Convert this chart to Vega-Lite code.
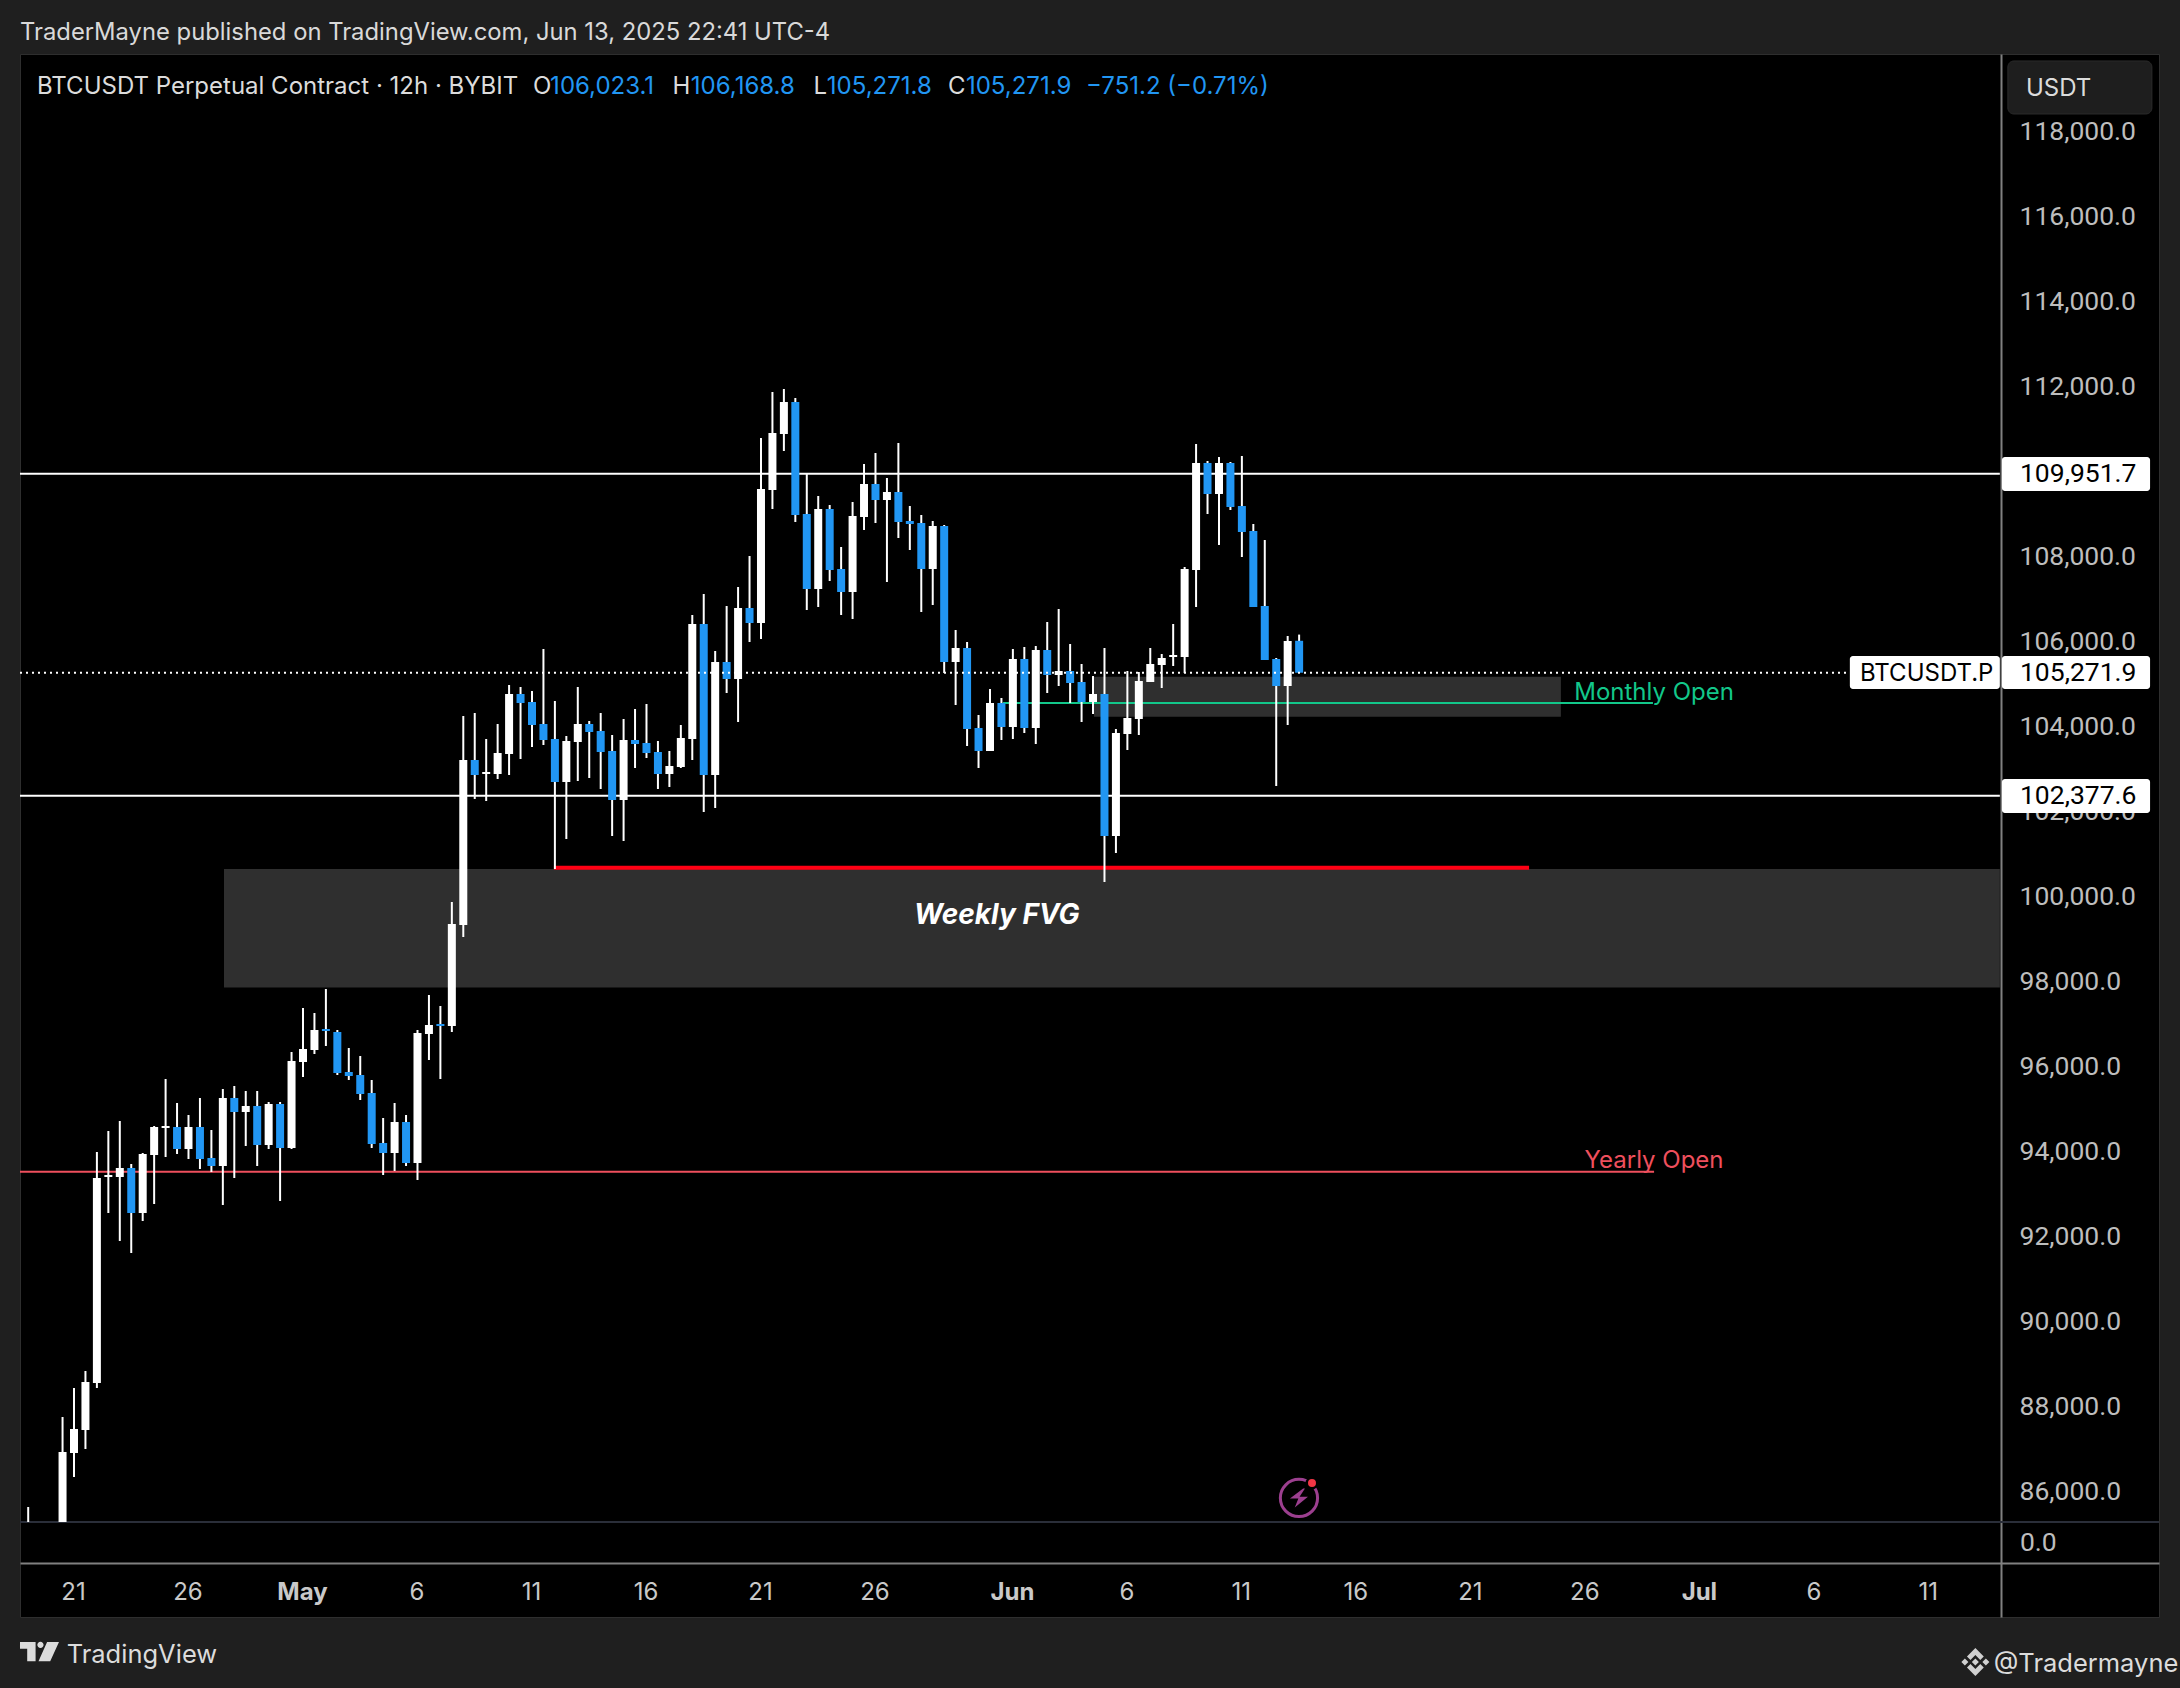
{
  "$schema": "https://vega.github.io/schema/vega-lite/v6.json",
  "width": 2139,
  "height": 1563,
  "autosize": {"type": "none"},
  "padding": {"left": 20, "top": 54, "right": 21, "bottom": 71},
  "background": "#1f1f1f",
  "title": {
    "text": "TraderMayne published on TradingView.com, Jun 13, 2025 22:41 UTC-4",
    "anchor": "start",
    "frame": "group",
    "offset": 9,
    "font": "Inter",
    "fontSize": 23.8,
    "fontWeight": 400,
    "color": "#d9d9d9"
  },
  "datasets": {
    "candles": [
      {"date":"2025-04-19T00:00:00Z","open":85289,"high":85642,"low":85289,"close":85289},
      {"date":"2025-04-20T12:00:00Z","open":85289,"high":87759,"low":85289,"close":86936},
      {"date":"2025-04-21T00:00:00Z","open":86912,"high":88442,"low":86348,"close":87477},
      {"date":"2025-04-21T12:00:00Z","open":87454,"high":88842,"low":87006,"close":88583},
      {"date":"2025-04-22T00:00:00Z","open":88559,"high":93995,"low":88442,"close":93383},
      {"date":"2025-04-22T12:00:00Z","open":93406,"high":94489,"low":92559,"close":93453},
      {"date":"2025-04-23T00:00:00Z","open":93406,"high":94724,"low":91901,"close":93618},
      {"date":"2025-04-23T12:00:00Z","open":93618,"high":93712,"low":91618,"close":92559},
      {"date":"2025-04-24T00:00:00Z","open":92559,"high":93971,"low":92371,"close":93948},
      {"date":"2025-04-24T12:00:00Z","open":93924,"high":94606,"low":92771,"close":94583},
      {"date":"2025-04-25T00:00:00Z","open":94559,"high":95712,"low":93877,"close":94606},
      {"date":"2025-04-25T12:00:00Z","open":94583,"high":95148,"low":93948,"close":94065},
      {"date":"2025-04-26T00:00:00Z","open":94065,"high":94865,"low":93830,"close":94583},
      {"date":"2025-04-26T12:00:00Z","open":94583,"high":95265,"low":93595,"close":93830},
      {"date":"2025-04-27T00:00:00Z","open":93853,"high":94512,"low":93524,"close":93665},
      {"date":"2025-04-27T12:00:00Z","open":93665,"high":95477,"low":92748,"close":95265},
      {"date":"2025-04-28T00:00:00Z","open":95265,"high":95548,"low":93383,"close":94936},
      {"date":"2025-04-28T12:00:00Z","open":94936,"high":95430,"low":94136,"close":95077},
      {"date":"2025-04-29T00:00:00Z","open":95077,"high":95430,"low":93665,"close":94159},
      {"date":"2025-04-29T12:00:00Z","open":94159,"high":95171,"low":94065,"close":95124},
      {"date":"2025-04-30T00:00:00Z","open":95124,"high":95171,"low":92842,"close":94089},
      {"date":"2025-04-30T12:00:00Z","open":94089,"high":96347,"low":94065,"close":96136},
      {"date":"2025-05-01T00:00:00Z","open":96112,"high":97383,"low":95759,"close":96418},
      {"date":"2025-05-01T12:00:00Z","open":96395,"high":97265,"low":96300,"close":96865},
      {"date":"2025-05-02T00:00:00Z","open":96889,"high":97830,"low":96489,"close":96842},
      {"date":"2025-05-02T12:00:00Z","open":96818,"high":96865,"low":95806,"close":95853},
      {"date":"2025-05-03T00:00:00Z","open":95877,"high":96442,"low":95689,"close":95783},
      {"date":"2025-05-03T12:00:00Z","open":95806,"high":96253,"low":95218,"close":95359},
      {"date":"2025-05-04T00:00:00Z","open":95383,"high":95689,"low":94089,"close":94183},
      {"date":"2025-05-04T12:00:00Z","open":94206,"high":94795,"low":93453,"close":93971},
      {"date":"2025-05-05T00:00:00Z","open":93971,"high":95148,"low":93548,"close":94700},
      {"date":"2025-05-05T12:00:00Z","open":94700,"high":94865,"low":93665,"close":93736},
      {"date":"2025-05-06T00:00:00Z","open":93736,"high":96865,"low":93336,"close":96795},
      {"date":"2025-05-06T12:00:00Z","open":96771,"high":97689,"low":96159,"close":96983},
      {"date":"2025-05-07T00:00:00Z","open":97006,"high":97430,"low":95712,"close":96959},
      {"date":"2025-05-07T12:00:00Z","open":96959,"high":99877,"low":96818,"close":99359},
      {"date":"2025-05-08T00:00:00Z","open":99336,"high":104253,"low":99053,"close":103218},
      {"date":"2025-05-08T12:00:00Z","open":103218,"high":104324,"low":102300,"close":102865},
      {"date":"2025-05-09T00:00:00Z","open":102889,"high":103712,"low":102253,"close":102936},
      {"date":"2025-05-09T12:00:00Z","open":102889,"high":104065,"low":102771,"close":103383},
      {"date":"2025-05-10T00:00:00Z","open":103359,"high":104983,"low":102865,"close":104771},
      {"date":"2025-05-10T12:00:00Z","open":104771,"high":104936,"low":103242,"close":104559},
      {"date":"2025-05-11T00:00:00Z","open":104583,"high":104841,"low":103524,"close":104041},
      {"date":"2025-05-11T12:00:00Z","open":104065,"high":105830,"low":103571,"close":103689},
      {"date":"2025-05-12T00:00:00Z","open":103712,"high":104606,"low":100653,"close":102700},
      {"date":"2025-05-12T12:00:00Z","open":102700,"high":103783,"low":101359,"close":103665},
      {"date":"2025-05-13T00:00:00Z","open":103641,"high":104936,"low":102724,"close":104065},
      {"date":"2025-05-13T12:00:00Z","open":104065,"high":104136,"low":102794,"close":103877},
      {"date":"2025-05-14T00:00:00Z","open":103900,"high":104324,"low":102536,"close":103406},
      {"date":"2025-05-14T12:00:00Z","open":103430,"high":103806,"low":101430,"close":102277},
      {"date":"2025-05-15T00:00:00Z","open":102277,"high":104183,"low":101312,"close":103689},
      {"date":"2025-05-15T12:00:00Z","open":103689,"high":104418,"low":103030,"close":103594},
      {"date":"2025-05-16T00:00:00Z","open":103618,"high":104536,"low":103265,"close":103383},
      {"date":"2025-05-16T12:00:00Z","open":103406,"high":103665,"low":102536,"close":102889},
      {"date":"2025-05-17T00:00:00Z","open":102889,"high":103430,"low":102583,"close":103077},
      {"date":"2025-05-17T12:00:00Z","open":103053,"high":104041,"low":103030,"close":103736},
      {"date":"2025-05-18T00:00:00Z","open":103712,"high":106630,"low":103218,"close":106418},
      {"date":"2025-05-18T12:00:00Z","open":106418,"high":107124,"low":101994,"close":102865},
      {"date":"2025-05-19T00:00:00Z","open":102865,"high":105783,"low":102089,"close":105524},
      {"date":"2025-05-19T12:00:00Z","open":105524,"high":106841,"low":104794,"close":105124},
      {"date":"2025-05-20T00:00:00Z","open":105124,"high":107288,"low":104112,"close":106794},
      {"date":"2025-05-20T12:00:00Z","open":106794,"high":108018,"low":105994,"close":106441},
      {"date":"2025-05-21T00:00:00Z","open":106441,"high":110794,"low":106065,"close":109594},
      {"date":"2025-05-21T12:00:00Z","open":109571,"high":111877,"low":109124,"close":110912},
      {"date":"2025-05-22T00:00:00Z","open":110888,"high":111947,"low":110488,"close":111641},
      {"date":"2025-05-22T12:00:00Z","open":111641,"high":111735,"low":108818,"close":108983},
      {"date":"2025-05-23T00:00:00Z","open":109006,"high":109947,"low":106747,"close":107241},
      {"date":"2025-05-23T12:00:00Z","open":107241,"high":109430,"low":106818,"close":109124},
      {"date":"2025-05-24T00:00:00Z","open":109124,"high":109218,"low":107430,"close":107688},
      {"date":"2025-05-24T12:00:00Z","open":107712,"high":108230,"low":106630,"close":107171},
      {"date":"2025-05-25T00:00:00Z","open":107171,"high":109288,"low":106536,"close":108959},
      {"date":"2025-05-25T12:00:00Z","open":108936,"high":110183,"low":108630,"close":109712},
      {"date":"2025-05-26T00:00:00Z","open":109712,"high":110441,"low":108794,"close":109335},
      {"date":"2025-05-26T12:00:00Z","open":109335,"high":109853,"low":107406,"close":109524},
      {"date":"2025-05-27T00:00:00Z","open":109524,"high":110677,"low":108441,"close":108818},
      {"date":"2025-05-27T12:00:00Z","open":108841,"high":109194,"low":108159,"close":108771},
      {"date":"2025-05-28T00:00:00Z","open":108794,"high":108983,"low":106700,"close":107712},
      {"date":"2025-05-28T12:00:00Z","open":107712,"high":108841,"low":106865,"close":108724},
      {"date":"2025-05-29T00:00:00Z","open":108724,"high":108747,"low":105265,"close":105524},
      {"date":"2025-05-29T12:00:00Z","open":105524,"high":106277,"low":104512,"close":105853},
      {"date":"2025-05-30T00:00:00Z","open":105853,"high":105994,"low":103547,"close":103947},
      {"date":"2025-05-30T12:00:00Z","open":103971,"high":104277,"low":103030,"close":103430},
      {"date":"2025-05-31T00:00:00Z","open":103430,"high":104889,"low":103430,"close":104559},
      {"date":"2025-05-31T12:00:00Z","open":104559,"high":104677,"low":103689,"close":103994},
      {"date":"2025-06-01T00:00:00Z","open":103994,"high":105830,"low":103712,"close":105594},
      {"date":"2025-06-01T12:00:00Z","open":105594,"high":105877,"low":103853,"close":103971},
      {"date":"2025-06-02T00:00:00Z","open":103971,"high":105900,"low":103594,"close":105806},
      {"date":"2025-06-02T12:00:00Z","open":105806,"high":106465,"low":104794,"close":105218},
      {"date":"2025-06-03T00:00:00Z","open":105218,"high":106771,"low":104959,"close":105312},
      {"date":"2025-06-03T12:00:00Z","open":105312,"high":105947,"low":104559,"close":105030},
      {"date":"2025-06-04T00:00:00Z","open":105053,"high":105477,"low":104112,"close":104583},
      {"date":"2025-06-04T12:00:00Z","open":104583,"high":105194,"low":104300,"close":104771},
      {"date":"2025-06-05T00:00:00Z","open":104771,"high":105853,"low":100347,"close":101430},
      {"date":"2025-06-05T12:00:00Z","open":101430,"high":103947,"low":101030,"close":103853},
      {"date":"2025-06-06T00:00:00Z","open":103830,"high":105312,"low":103453,"close":104206},
      {"date":"2025-06-06T12:00:00Z","open":104183,"high":105288,"low":103806,"close":105077},
      {"date":"2025-06-07T00:00:00Z","open":105053,"high":105853,"low":105053,"close":105477},
      {"date":"2025-06-07T12:00:00Z","open":105453,"high":105712,"low":104912,"close":105618},
      {"date":"2025-06-08T00:00:00Z","open":105641,"high":106418,"low":105430,"close":105688},
      {"date":"2025-06-08T12:00:00Z","open":105641,"high":107759,"low":105265,"close":107712},
      {"date":"2025-06-09T00:00:00Z","open":107688,"high":110653,"low":106818,"close":110206},
      {"date":"2025-06-09T12:00:00Z","open":110206,"high":110253,"low":109006,"close":109477},
      {"date":"2025-06-10T00:00:00Z","open":109477,"high":110347,"low":108277,"close":110206},
      {"date":"2025-06-10T12:00:00Z","open":110206,"high":110230,"low":109100,"close":109171},
      {"date":"2025-06-11T00:00:00Z","open":109194,"high":110371,"low":107994,"close":108583},
      {"date":"2025-06-11T12:00:00Z","open":108606,"high":108771,"low":106818,"close":106818},
      {"date":"2025-06-12T00:00:00Z","open":106841,"high":108394,"low":105571,"close":105571},
      {"date":"2025-06-12T12:00:00Z","open":105594,"high":105618,"low":102606,"close":104959},
      {"date":"2025-06-13T00:00:00Z","open":104959,"high":106136,"low":104041,"close":106018},
      {"date":"2025-06-13T12:00:00Z","open":106023.1,"high":106168.8,"low":105271.8,"close":105271.9}
    ],
    "levels": [
      {"level":"resistance","from":"2025-04-18T15:24:00Z","to":"2025-07-14T02:24:00Z","price":109951.7},
      {"level":"support","from":"2025-04-18T15:24:00Z","to":"2025-07-14T02:24:00Z","price":102377.6},
      {"level":"yearly","from":"2025-04-18T15:24:00Z","to":"2025-06-29T00:00:00Z","price":93528},
      {"level":"monthly","from":"2025-05-31T13:40:00Z","to":"2025-06-28T22:50:00Z","price":104559},
      {"level":"pane","from":"2025-04-18T15:24:00Z","to":"2025-07-21T01:12:00Z","price":85289}
    ],
    "zones": [
      {"from":"2025-04-27T13:12:00Z","to":"2025-07-14T02:24:00Z","top":100653,"bottom":97865},
      {"from":"2025-06-04T13:00:00Z","to":"2025-06-24T22:20:00Z","top":105178,"bottom":104237}
    ],
    "tags": [
      {"from":"2025-07-14T04:34:00Z","to":"2025-07-20T15:50:00Z","top":110347,"bottom":109547},
      {"from":"2025-07-14T04:34:00Z","to":"2025-07-20T15:50:00Z","top":105665,"bottom":104889},
      {"from":"2025-07-14T04:34:00Z","to":"2025-07-20T15:50:00Z","top":102771,"bottom":101971},
      {"from":"2025-07-07T13:12:00Z","to":"2025-07-14T02:24:00Z","top":105665,"bottom":104889}
    ],
    "notes": [
      {"text":"BTCUSDT Perpetual Contract · 12h · BYBIT","tone":"plain","date":"2025-04-19T09:13:00Z","price":119050},
      {"text":"O","tone":"plain","date":"2025-05-11T01:00:00Z","price":119050},
      {"text":"106,023.1","tone":"quote","date":"2025-05-11T19:00:00Z","price":119050},
      {"text":"H","tone":"plain","date":"2025-05-17T03:20:00Z","price":119050},
      {"text":"106,168.8","tone":"quote","date":"2025-05-17T22:30:00Z","price":119050},
      {"text":"L","tone":"plain","date":"2025-05-23T07:10:00Z","price":119050},
      {"text":"105,271.8","tone":"quote","date":"2025-05-23T21:00:00Z","price":119050},
      {"text":"C","tone":"plain","date":"2025-05-29T04:00:00Z","price":119050},
      {"text":"105,271.9","tone":"quote","date":"2025-05-29T22:50:00Z","price":119050},
      {"text":"−751.2 (−0.71%)","tone":"quote","date":"2025-06-04T04:36:00Z","price":119050},
      {"text":"USDT","tone":"plain","date":"2025-07-15T05:45:00Z","price":119000},
      {"text":"BTCUSDT.P","tone":"tag","date":"2025-07-07T23:50:00Z","price":105250},
      {"text":"Monthly Open","tone":"monthly","date":"2025-06-29T00:00:00Z","price":104800,"centred":true},
      {"text":"Yearly Open","tone":"yearly","date":"2025-06-29T00:00:00Z","price":93790,"centred":true}
    ],
    "priceNotes": [
      {"text":"109,951.7","tone":"tag","date":"2025-07-14T23:30:00Z","price":109951.7},
      {"text":"105,271.9","tone":"tag","date":"2025-07-14T23:30:00Z","price":105271.9},
      {"text":"102,377.6","tone":"tag","date":"2025-07-14T23:30:00Z","price":102377.6},
      {"text":"0.0","tone":"axis","date":"2025-07-14T23:30:00Z","price":84802}
    ],
    "footer": [
      {"text":"TradingView","date":"2025-04-20T16:20:00Z","price":82170},
      {"text":"@Tradermayne","date":"2025-07-13T20:00:00Z","price":81950}
    ]
  },
  "data": {"name": "candles"},
  "layer": [
    {
      "data": {"name": "zones"},
      "mark": {"type": "rect", "color": "#2f2f2f"},
      "encoding": {
        "x": {
          "field": "from",
          "type": "temporal",
          "title": null,
          "scale": {"type": "utc", "domain": [1744989868800, 1753060320000], "nice": false, "padding": 0},
          "axis": {
            "orient": "bottom",
            "offset": -54,
            "values": [1745193600000, 1745625600000, 1746057600000, 1746489600000, 1746921600000, 1747353600000, 1747785600000, 1748217600000, 1748736000000, 1749168000000, 1749600000000, 1750032000000, 1750464000000, 1750896000000, 1751328000000, 1751760000000, 1752192000000],
            "labelExpr": "utcdate(datum.value) == 1 ? utcFormat(datum.value, '%b') : utcFormat(datum.value, '%-d')",
            "labelFontWeight": {"condition": {"test": "utcdate(datum.value) == 1", "value": 700}, "value": 400},
            "labelFont": "Inter",
            "labelFontSize": 24,
            "labelColor": "#c9c9c9",
            "labelPadding": 17,
            "labelOffset": -1,
            "labelOverlap": false,
            "labelFlush": false,
            "ticks": false,
            "grid": false,
            "domainColor": "#808080",
            "domainWidth": 2
          }
        },
        "x2": {"field": "to"},
        "y": {
          "field": "top",
          "type": "quantitative",
          "title": null,
          "scale": {"domain": [83053.6, 119829.4], "nice": false, "zero": false},
          "axis": {
            "orient": "right",
            "offset": -158,
            "values": [86000, 88000, 90000, 92000, 94000, 96000, 98000, 100000, 102000, 104000, 106000, 108000, 110000, 112000, 114000, 116000, 118000],
            "format": ",.1f",
            "labelFont": "Roboto",
            "labelFontSize": 26.5,
            "labelColor": "#bdbdbd",
            "labelAlign": "left",
            "labelPadding": 18,
            "labelOverlap": false,
            "labelFlush": false,
            "ticks": false,
            "grid": false,
            "domainColor": "#808080",
            "domainWidth": 2
          }
        },
        "y2": {"field": "bottom"}
      }
    },
    {
      "data": {"name": "levels"},
      "mark": {"type": "rule", "strokeWidth": 2},
      "encoding": {
        "x": {"field": "from", "type": "temporal", "title": null},
        "x2": {"field": "to"},
        "y": {"field": "price", "type": "quantitative", "title": null},
        "color": {
          "field": "level",
          "type": "nominal",
          "legend": null,
          "scale": {
            "domain": ["resistance", "support", "yearly", "monthly", "pane", "plain", "quote", "tag", "axis"],
            "range": ["#ffffff", "#ffffff", "#ef4f5d", "#12c78a", "#2a2e39", "#dcdcdc", "#2196f3", "#000000", "#bdbdbd"]
          }
        }
      }
    },
    {
      "data": {"values": [{"from": "2025-05-11T23:00:00Z", "to": "2025-06-23T13:00:00Z", "price": 100684}]},
      "mark": {"type": "rule", "color": "#ff0014", "strokeWidth": 4},
      "encoding": {
        "x": {"field": "from", "type": "temporal", "title": null},
        "x2": {"field": "to"},
        "y": {"field": "price", "type": "quantitative", "title": null}
      }
    },
    {
      "mark": {"type": "rule", "color": "#ffffff", "strokeWidth": 2},
      "encoding": {
        "x": {"field": "date", "type": "temporal", "title": null},
        "y": {"field": "low", "type": "quantitative", "title": null},
        "y2": {"field": "high"}
      }
    },
    {
      "mark": {"type": "bar", "size": 8},
      "encoding": {
        "x": {"field": "date", "type": "temporal", "title": null},
        "y": {"field": "open", "type": "quantitative", "title": null},
        "y2": {"field": "close"},
        "color": {"condition": {"test": "datum.close < datum.open", "value": "#2196f3"}, "value": "#ffffff"}
      }
    },
    {
      "data": {"values": [{"from": "2025-04-18T15:24:00Z", "to": "2025-07-07T13:12:00Z", "price": 105271.9}]},
      "mark": {"type": "rule", "color": "#ffffff", "strokeWidth": 2, "strokeDash": [2, 4]},
      "encoding": {
        "x": {"field": "from", "type": "temporal", "title": null},
        "x2": {"field": "to"},
        "y": {"field": "price", "type": "quantitative", "title": null}
      }
    },
    {
      "data": {"name": "tags"},
      "mark": {"type": "rect", "color": "#ffffff", "cornerRadius": 3},
      "encoding": {
        "x": {"field": "from", "type": "temporal", "title": null},
        "x2": {"field": "to"},
        "y": {"field": "top", "type": "quantitative", "title": null},
        "y2": {"field": "bottom"}
      }
    },
    {
      "data": {"values": [{"from": "2025-07-14T10:48:00Z", "to": "2025-07-20T17:45:00Z", "top": 119665, "bottom": 118418}]},
      "mark": {"type": "rect", "color": "#1e1e1e", "stroke": "#2b2b2b", "cornerRadius": 6},
      "encoding": {
        "x": {"field": "from", "type": "temporal", "title": null},
        "x2": {"field": "to"},
        "y": {"field": "top", "type": "quantitative", "title": null},
        "y2": {"field": "bottom"}
      }
    },
    {
      "data": {"name": "notes"},
      "transform": [{"filter": "!datum.centred"}],
      "mark": {"type": "text", "align": "left", "baseline": "middle", "font": "Inter", "fontSize": 24},
      "encoding": {
        "x": {"field": "date", "type": "temporal", "title": null},
        "y": {"field": "price", "type": "quantitative", "title": null},
        "text": {"field": "text"},
        "color": {"field": "tone", "type": "nominal", "legend": null}
      }
    },
    {
      "data": {"name": "priceNotes"},
      "mark": {"type": "text", "align": "left", "baseline": "middle", "font": "Roboto", "fontSize": 26.5},
      "encoding": {
        "x": {"field": "date", "type": "temporal", "title": null},
        "y": {"field": "price", "type": "quantitative", "title": null},
        "text": {"field": "text"},
        "color": {"field": "tone", "type": "nominal", "legend": null}
      }
    },
    {
      "data": {"name": "notes"},
      "transform": [{"filter": "datum.centred"}],
      "mark": {"type": "text", "align": "center", "baseline": "middle", "font": "Inter", "fontSize": 24},
      "encoding": {
        "x": {"field": "date", "type": "temporal", "title": null},
        "y": {"field": "price", "type": "quantitative", "title": null},
        "text": {"field": "text"},
        "color": {"field": "tone", "type": "nominal", "legend": null}
      }
    },
    {
      "data": {"name": "footer"},
      "mark": {"type": "text", "align": "left", "baseline": "middle", "font": "Inter", "fontSize": 25.5, "color": "#dcdcdc"},
      "encoding": {
        "x": {"field": "date", "type": "temporal", "title": null},
        "y": {"field": "price", "type": "quantitative", "title": null},
        "text": {"field": "text"}
      }
    },
    {
      "data": {"values": [{"text": "Weekly FVG", "date": "2025-05-31T07:12:00Z", "price": 99548}]},
      "mark": {"type": "text", "align": "center", "baseline": "middle", "font": "Inter", "fontSize": 28, "fontWeight": 700, "fontStyle": "italic", "color": "#ffffff"},
      "encoding": {
        "x": {"field": "date", "type": "temporal", "title": null},
        "y": {"field": "price", "type": "quantitative", "title": null},
        "text": {"field": "text"}
      }
    },
    {
      "data": {"values": [{"date": "2025-06-13T11:50:00Z", "price": 85854}]},
      "mark": {"type": "point", "shape": "circle", "size": 1385, "filled": false, "stroke": "#9c3f8f", "strokeWidth": 3, "opacity": 1},
      "encoding": {
        "x": {"field": "date", "type": "temporal", "title": null},
        "y": {"field": "price", "type": "quantitative", "title": null}
      }
    },
    {
      "data": {"values": [{"date": "2025-06-13T11:50:00Z", "price": 85854}]},
      "mark": {"type": "point", "shape": "M0.35 -0.8L-0.75 0.05H-0.05L-0.35 0.8L0.75 -0.1H0.05L0.5 -0.8Z", "size": 576, "filled": true, "color": "#9c3f8f", "opacity": 1},
      "encoding": {
        "x": {"field": "date", "type": "temporal", "title": null},
        "y": {"field": "price", "type": "quantitative", "title": null}
      }
    },
    {
      "data": {"values": [{"date": "2025-06-14T01:30:00Z", "price": 86207}]},
      "mark": {"type": "point", "shape": "circle", "size": 110, "filled": true, "fill": "#f23645", "stroke": "#000000", "strokeWidth": 2.5, "opacity": 1},
      "encoding": {
        "x": {"field": "date", "type": "temporal", "title": null},
        "y": {"field": "price", "type": "quantitative", "title": null}
      }
    },
    {
      "data": {"values": [{"date": "2025-04-19T11:50:00Z", "price": 82230}]},
      "mark": {"type": "point", "shape": "M-1 -0.51H-0.2V0.47H-0.63V-0.17H-1ZM-0.11 -0.37a0.16 0.16 0 1 0 0.32 0a0.16 0.16 0 1 0 -0.32 0ZM0.39 -0.51H1L0.55 0.47H-0.05Z", "size": 1521, "filled": true, "color": "#dcdcdc", "opacity": 1},
      "encoding": {
        "x": {"field": "date", "type": "temporal", "title": null},
        "y": {"field": "price", "type": "quantitative", "title": null}
      }
    },
    {
      "data": {"values": [{"date": "2025-07-13T00:45:00Z", "price": 81995}]},
      "mark": {"type": "point", "shape": "M0 -0.25L0.25 0L0 0.25L-0.25 0ZM-1 0L-0.75 -0.25L-0.5 0L-0.75 0.25ZM1 0L0.75 -0.25L0.5 0L0.75 0.25ZM0 -1L0.6 -0.4L0.35 -0.15L0 -0.5L-0.35 -0.15L-0.6 -0.4ZM0 1L0.6 0.4L0.35 0.15L0 0.5L-0.35 0.15L-0.6 0.4Z", "size": 784, "filled": true, "color": "#d0d0d0", "opacity": 1},
      "encoding": {
        "x": {"field": "date", "type": "temporal", "title": null},
        "y": {"field": "price", "type": "quantitative", "title": null}
      }
    }
  ],
  "config": {
    "view": {"fill": "#000000", "stroke": "#2e2e2e"},
    "scale": {"continuousPadding": 0}
  }
}
